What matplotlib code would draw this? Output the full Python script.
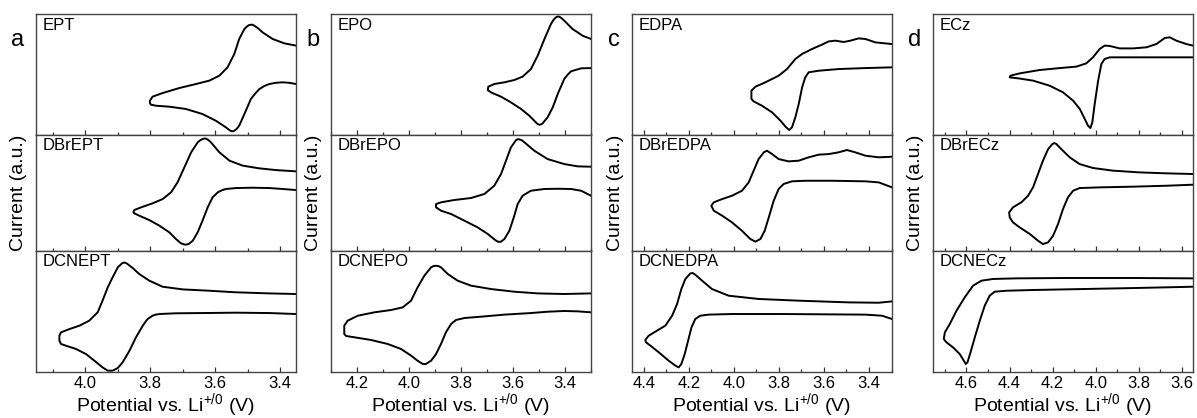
import matplotlib
matplotlib.use('Agg')

import matplotlib.pyplot as plt
from matplotlib.ticker import MultipleLocator

plt.rcParams['font.family'] = ['Liberation Sans', 'DejaVu Sans']

# CV loops: potential (V vs. Li+/0) and normalised current (a.u.), one closed sweep each
ept_v = [3.351, 3.372, 3.392, 3.413, 3.433, 3.449, 3.464, 3.477, 3.490, 3.510, 3.526, 3.533, 3.541,
         3.546, 3.551, 3.558, 3.567, 3.598, 3.639, 3.690, 3.741, 3.782, 3.798, 3.801, 3.801, 3.793,
         3.762, 3.710, 3.659, 3.618, 3.587, 3.562, 3.541, 3.526, 3.510, 3.502, 3.495, 3.487, 3.479,
         3.468, 3.454, 3.423, 3.387, 3.351]
ept_i = [0.420, 0.430, 0.434, 0.430, 0.420, 0.403, 0.378, 0.340, 0.296, 0.171, 0.075, 0.050, 0.033,
         0.028, 0.030, 0.042, 0.061, 0.116, 0.171, 0.213, 0.232, 0.240, 0.249, 0.262, 0.282, 0.315,
         0.345, 0.387, 0.420, 0.448, 0.489, 0.558, 0.669, 0.793, 0.876, 0.897, 0.909, 0.912, 0.903,
         0.882, 0.848, 0.793, 0.757, 0.738]

dbrept_v = [3.351, 3.392, 3.433, 3.485, 3.536, 3.567, 3.580, 3.592, 3.608, 3.623, 3.639, 3.654, 3.669,
            3.682, 3.693, 3.705, 3.721, 3.741, 3.772, 3.803, 3.834, 3.849, 3.852, 3.849, 3.823, 3.793,
            3.762, 3.736, 3.716, 3.695, 3.674, 3.654, 3.646, 3.639, 3.633, 3.628, 3.620, 3.613, 3.587,
            3.556, 3.515, 3.464, 3.413, 3.351]
dbrept_i = [0.523, 0.532, 0.540, 0.543, 0.540, 0.532, 0.520, 0.503, 0.460, 0.374, 0.259, 0.158, 0.086,
            0.057, 0.052, 0.063, 0.101, 0.158, 0.216, 0.264, 0.302, 0.322, 0.333, 0.351, 0.379, 0.408,
            0.445, 0.503, 0.589, 0.718, 0.848, 0.934, 0.952, 0.963, 0.967, 0.966, 0.952, 0.934, 0.848,
            0.776, 0.733, 0.710, 0.695, 0.684]

dcnept_v = [3.351, 3.433, 3.536, 3.639, 3.721, 3.772, 3.783, 3.793, 3.808, 3.815, 3.823, 3.844, 3.864,
            3.885, 3.900, 3.916, 3.931, 3.947, 3.972, 3.998, 4.029, 4.060, 4.075, 4.080, 4.080, 4.075,
            4.049, 4.018, 3.988, 3.962, 3.947, 3.931, 3.916, 3.900, 3.887, 3.880, 3.873, 3.854, 3.834,
            3.803, 3.762, 3.700, 3.618, 3.536, 3.433, 3.351]
dcnept_i = [0.478, 0.486, 0.489, 0.486, 0.484, 0.478, 0.473, 0.464, 0.437, 0.413, 0.382, 0.286, 0.176,
            0.080, 0.033, 0.011, 0.011, 0.038, 0.093, 0.148, 0.190, 0.217, 0.231, 0.258, 0.299, 0.327,
            0.354, 0.382, 0.423, 0.492, 0.588, 0.698, 0.780, 0.863, 0.896, 0.903, 0.896, 0.857, 0.808,
            0.753, 0.703, 0.681, 0.670, 0.657, 0.648, 0.643]

epo_v = [3.300, 3.338, 3.377, 3.390, 3.403, 3.428, 3.447, 3.467, 3.486, 3.492, 3.499, 3.505, 3.512,
         3.537, 3.569, 3.608, 3.646, 3.685, 3.697, 3.695, 3.672, 3.633, 3.595, 3.563, 3.531, 3.505,
         3.479, 3.454, 3.444, 3.435, 3.429, 3.422, 3.413, 3.403, 3.371, 3.332, 3.300]
epo_i = [0.552, 0.550, 0.525, 0.497, 0.461, 0.337, 0.227, 0.144, 0.094, 0.085, 0.083, 0.088, 0.102,
         0.157, 0.213, 0.268, 0.315, 0.351, 0.370, 0.398, 0.420, 0.434, 0.453, 0.481, 0.544, 0.655,
         0.793, 0.917, 0.952, 0.972, 0.979, 0.978, 0.965, 0.945, 0.876, 0.820, 0.793]

dbrepo_v = [3.300, 3.338, 3.377, 3.428, 3.479, 3.531, 3.563, 3.582, 3.597, 3.614, 3.633, 3.646, 3.655,
            3.665, 3.697, 3.736, 3.787, 3.838, 3.877, 3.896, 3.896, 3.877, 3.826, 3.762, 3.710, 3.672,
            3.646, 3.627, 3.608, 3.588, 3.582, 3.576, 3.566, 3.556, 3.518, 3.467, 3.403, 3.351, 3.300]
dbrepo_i = [0.474, 0.517, 0.532, 0.534, 0.532, 0.517, 0.474, 0.402, 0.287, 0.172, 0.101, 0.078, 0.076,
            0.086, 0.144, 0.201, 0.259, 0.316, 0.345, 0.374, 0.402, 0.417, 0.437, 0.454, 0.489, 0.560,
            0.661, 0.776, 0.891, 0.954, 0.961, 0.960, 0.952, 0.934, 0.862, 0.790, 0.747, 0.727, 0.724]

dcnepo_v = [3.300, 3.351, 3.403, 3.467, 3.531, 3.633, 3.723, 3.787, 3.819, 3.838, 3.858, 3.877, 3.896,
            3.915, 3.935, 3.947, 3.967, 3.992, 4.031, 4.082, 4.146, 4.210, 4.242, 4.249, 4.249, 4.236,
            4.197, 4.133, 4.069, 4.024, 3.992, 3.967, 3.941, 3.915, 3.905, 3.896, 3.887, 3.877, 3.851,
            3.813, 3.762, 3.685, 3.595, 3.505, 3.403, 3.300]
dcnepo_i = [0.492, 0.500, 0.503, 0.497, 0.486, 0.473, 0.456, 0.445, 0.429, 0.396, 0.327, 0.231, 0.148,
            0.093, 0.066, 0.066, 0.093, 0.135, 0.190, 0.231, 0.264, 0.286, 0.297, 0.313, 0.382, 0.423,
            0.464, 0.492, 0.511, 0.533, 0.588, 0.698, 0.794, 0.863, 0.874, 0.876, 0.873, 0.863, 0.808,
            0.753, 0.712, 0.684, 0.662, 0.648, 0.643, 0.648]

edpa_v = [3.298, 3.416, 3.535, 3.623, 3.668, 3.683, 3.697, 3.712, 3.727, 3.742, 3.754, 3.768, 3.793,
          3.830, 3.875, 3.912, 3.922, 3.922, 3.904, 3.860, 3.801, 3.764, 3.727, 3.697, 3.653, 3.609,
          3.579, 3.549, 3.512, 3.483, 3.446, 3.416, 3.372, 3.298]
edpa_i = [0.558, 0.552, 0.544, 0.530, 0.517, 0.475, 0.392, 0.254, 0.144, 0.061, 0.039, 0.061, 0.116,
          0.185, 0.240, 0.276, 0.296, 0.365, 0.398, 0.434, 0.489, 0.544, 0.627, 0.669, 0.710, 0.746,
          0.773, 0.779, 0.768, 0.779, 0.798, 0.793, 0.765, 0.751]

dbredpa_v = [3.298, 3.357, 3.416, 3.564, 3.683, 3.742, 3.779, 3.801, 3.823, 3.845, 3.863, 3.882, 3.904,
             3.927, 3.964, 4.008, 4.052, 4.089, 4.100, 4.089, 4.052, 4.008, 3.964, 3.934, 3.912, 3.890,
             3.867, 3.853, 3.830, 3.801, 3.757, 3.712, 3.668, 3.623, 3.579, 3.535, 3.498, 3.461, 3.416,
             3.357, 3.298]
dbredpa_i = [0.546, 0.589, 0.598, 0.603, 0.603, 0.598, 0.575, 0.532, 0.431, 0.287, 0.172, 0.101, 0.078,
             0.101, 0.172, 0.244, 0.302, 0.345, 0.388, 0.417, 0.445, 0.474, 0.517, 0.589, 0.690, 0.790,
             0.848, 0.862, 0.833, 0.790, 0.770, 0.776, 0.805, 0.828, 0.833, 0.848, 0.868, 0.848, 0.819,
             0.805, 0.810]

dcnedpa_v = [3.298, 3.342, 3.416, 3.564, 3.786, 4.008, 4.112, 4.149, 4.171, 4.188, 4.203, 4.218, 4.233,
             4.245, 4.259, 4.289, 4.333, 4.370, 4.390, 4.393, 4.378, 4.341, 4.304, 4.274, 4.252, 4.233,
             4.215, 4.193, 4.182, 4.171, 4.141, 4.097, 4.023, 3.890, 3.712, 3.490, 3.357, 3.298]
dcnedpa_i = [0.437, 0.464, 0.473, 0.475, 0.478, 0.478, 0.473, 0.464, 0.437, 0.368, 0.258, 0.148, 0.066,
             0.038, 0.052, 0.093, 0.162, 0.217, 0.245, 0.264, 0.299, 0.341, 0.382, 0.464, 0.560, 0.684,
             0.767, 0.813, 0.816, 0.802, 0.753, 0.684, 0.629, 0.602, 0.588, 0.574, 0.571, 0.582]

ecz_v = [3.549, 3.673, 3.827, 3.935, 3.959, 3.974, 3.989, 4.005, 4.016, 4.025, 4.036, 4.051, 4.074,
         4.105, 4.152, 4.214, 4.291, 4.360, 4.399, 4.396, 4.353, 4.260, 4.167, 4.090, 4.044, 4.013,
         3.982, 3.959, 3.935, 3.889, 3.827, 3.765, 3.719, 3.680, 3.657, 3.626, 3.580, 3.549]
ecz_i = [0.641, 0.641, 0.641, 0.641, 0.627, 0.586, 0.448, 0.254, 0.102, 0.055, 0.075, 0.130, 0.213,
         0.282, 0.351, 0.406, 0.448, 0.467, 0.475, 0.489, 0.508, 0.536, 0.552, 0.564, 0.591, 0.641,
         0.710, 0.738, 0.735, 0.715, 0.715, 0.724, 0.751, 0.801, 0.807, 0.779, 0.751, 0.738]

dbrecz_v = [3.549, 3.673, 3.827, 3.982, 4.075, 4.105, 4.129, 4.152, 4.175, 4.198, 4.221, 4.245, 4.268,
            4.306, 4.353, 4.384, 4.399, 4.402, 4.384, 4.345, 4.314, 4.291, 4.268, 4.245, 4.221, 4.201,
            4.192, 4.183, 4.160, 4.121, 4.075, 4.013, 3.920, 3.796, 3.673, 3.549]
dbrecz_i = [0.569, 0.560, 0.552, 0.546, 0.540, 0.517, 0.460, 0.359, 0.230, 0.129, 0.072, 0.057, 0.086,
            0.144, 0.201, 0.244, 0.287, 0.330, 0.374, 0.417, 0.474, 0.546, 0.661, 0.776, 0.876, 0.920,
            0.928, 0.920, 0.876, 0.805, 0.747, 0.713, 0.690, 0.675, 0.667, 0.661]

dcnecz_v = [3.549, 3.673, 3.827, 4.059, 4.291, 4.415, 4.469, 4.492, 4.515, 4.538, 4.561, 4.581, 4.595,
            4.603, 4.612, 4.631, 4.662, 4.693, 4.705, 4.700, 4.677, 4.646, 4.608, 4.569, 4.530, 4.476,
            4.368, 4.136, 3.827, 3.549]
dcnecz_i = [0.703, 0.698, 0.692, 0.684, 0.676, 0.670, 0.662, 0.629, 0.547, 0.423, 0.286, 0.162, 0.080,
            0.066, 0.093, 0.148, 0.203, 0.245, 0.272, 0.327, 0.396, 0.505, 0.615, 0.712, 0.753, 0.767,
            0.772, 0.775, 0.775, 0.772]

letters = ['a', 'b', 'c', 'd']
names = [['EPT', 'DBrEPT', 'DCNEPT'],
         ['EPO', 'DBrEPO', 'DCNEPO'],
         ['EDPA', 'DBrEDPA', 'DCNEDPA'],
         ['ECz', 'DBrECz', 'DCNECz']]
curves = [[(ept_v, ept_i), (dbrept_v, dbrept_i), (dcnept_v, dcnept_i)],
          [(epo_v, epo_i), (dbrepo_v, dbrepo_i), (dcnepo_v, dcnepo_i)],
          [(edpa_v, edpa_i), (dbredpa_v, dbredpa_i), (dcnedpa_v, dcnedpa_i)],
          [(ecz_v, ecz_i), (dbrecz_v, dbrecz_i), (dcnecz_v, dcnecz_i)]]
xlims = [(4.152, 3.351), (4.30, 3.30), (4.452, 3.298), (4.755, 3.549)]

W, H = 1197., 418.
fig = plt.figure(figsize=(W / 100, H / 100), dpi=100)

lefts = [36, 331, 632, 933]   # px
rows = [(14, 134.7), (134.7, 250.7), (250.7, 372)]   # px, top/bottom of each row
AXW = 260

for p in range(4):
    x0 = lefts[p]
    for r in range(3):
        top, bot = rows[r]
        ax = fig.add_axes([x0 / W, 1 - bot / H, AXW / W, (bot - top) / H])
        v, i = curves[p][r]
        ax.plot(v, i, color='k', lw=1.4, solid_joinstyle='round')
        ax.set_xlim(xlims[p])
        ax.set_ylim(0, 1)
        ax.set_yticks([])
        ax.xaxis.set_major_locator(MultipleLocator(0.2))
        ax.xaxis.set_minor_locator(MultipleLocator(0.1))
        ax.tick_params(axis='x', which='both', direction='in', top=False, color='#333333')
        ax.tick_params(axis='x', which='major', length=3.5, width=0.9, labelsize=12, pad=3)
        ax.tick_params(axis='x', which='minor', length=2.5, width=0.9)
        for s in ax.spines.values():
            s.set_color('#444444')
            s.set_linewidth(1.0)
        ax.text(0.025, 0.97, names[p][r], transform=ax.transAxes, ha='left', va='top', fontsize=12)
        if r < 2:
            ax.tick_params(axis='x', labelbottom=False)
        else:
            ax.set_xlabel('Potential vs. Li$^{\\mathregular{+/0}}$ (V)', fontsize=14, labelpad=0)
    fig.text((x0 - 17) / W, 1 - 193 / H, 'Current (a.u.)', rotation=90, ha='center', va='center',
             fontsize=14)
    fig.text((x0 - 18) / W, 1 - 40 / H, letters[p], ha='center', va='center', fontsize=17)

plt.savefig('out.png', dpi=100)
